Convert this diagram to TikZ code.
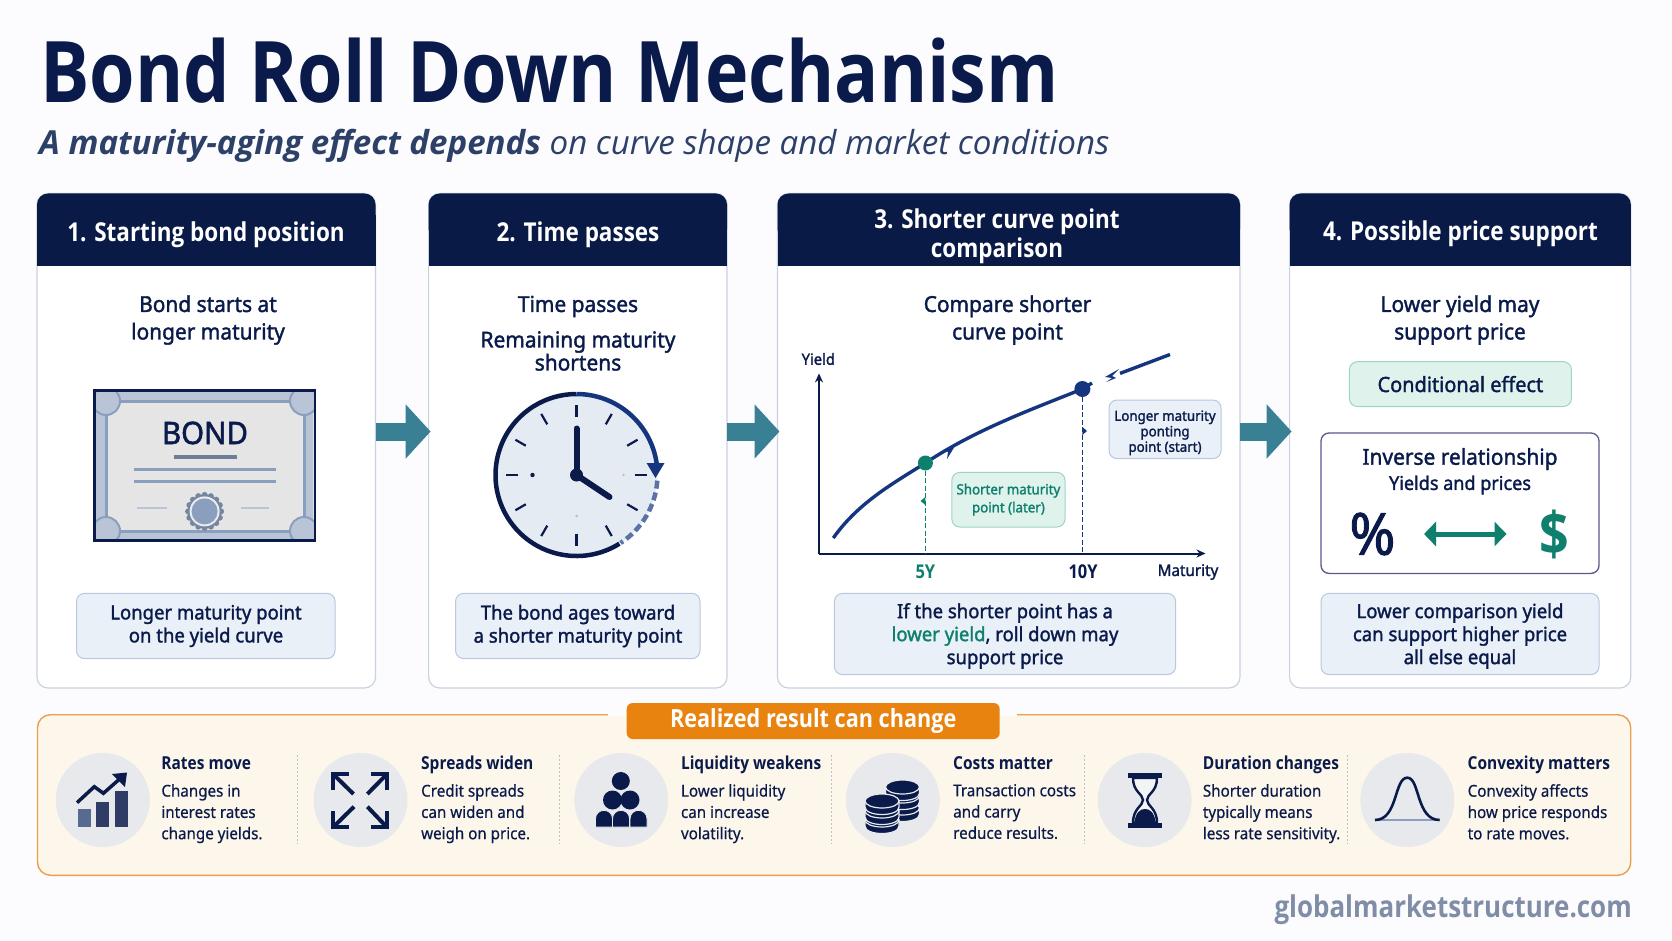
\documentclass[tikz,border=0pt]{standalone}
\usepackage{fontspec}
\usetikzlibrary{arrows.meta,calc}
\setmainfont{Noto Sans}
\newfontfamily\medf[FakeBold=1.6,FakeStretch=0.95]{Noto Sans}
\newfontfamily\condf[FakeStretch=0.93,FakeBold=0.5]{Noto Sans}
\newfontfamily\boldfam[FakeStretch=0.865]{Open Sans}
\newfontfamily\subfam{Open Sans}
\newcommand{\boldf}{\boldfam\bfseries}
\newcommand{\itf}{\subfam\itshape}
\newcommand{\ibf}{\subfam\bfseries\itshape}
\newcommand{\fz}[2]{\fontsize{#1}{#2}\selectfont}
\definecolor{navy}{HTML}{0A1B4B}
\definecolor{subc}{HTML}{2C4068}
\definecolor{hdr}{HTML}{0A1A46}
\definecolor{pbord}{HTML}{C9D2E0}
\definecolor{bluefill}{HTML}{EAF0F8}
\definecolor{blueb}{HTML}{B9C8DE}
\definecolor{greenfill}{HTML}{DFF2EC}
\definecolor{greenb}{HTML}{9FD3C5}
\definecolor{teal}{HTML}{0F7F6E}
\definecolor{arrowc}{HTML}{3A8095}
\definecolor{cream}{HTML}{FDF6EA}
\definecolor{orange}{HTML}{E8830F}
\definecolor{orangeb}{HTML}{E8A04A}
\definecolor{iconbg}{HTML}{E8E9EC}
\definecolor{certb}{HTML}{8A9EBD}
\definecolor{royal}{HTML}{15357F}
\definecolor{wm}{HTML}{7F8EA6}
\tikzset{
 panel/.style={draw=pbord,line width=1.2pt,fill=white,rounded corners=11pt,inner sep=0pt,outer sep=0pt},
 hdrtext/.style={text=white,align=center,font=\boldf\fz{26}{29.5}},
 headtext/.style={text=navy,align=center,font=\medf\fz{22}{27.5}},
 noteshape/.style={draw=blueb,line width=1pt,fill=bluefill,rounded corners=8pt,inner sep=0pt,outer sep=0pt},
 notetext/.style={text=navy,align=center,font=\medf\fz{19.5}{23}},
 greenbox/.style={draw=greenb,line width=1pt,fill=greenfill,rounded corners=8pt,inner sep=0pt,outer sep=0pt,align=center},
 bigarrow/.style={draw=arrowc,line width=18pt,shorten >=-2pt,-{Triangle[length=25pt,width=53pt]}},
 axis/.style={draw=navy,line width=2pt,-{Stealth[length=9pt,width=8pt]}},
 factT/.style={anchor=base west,inner sep=0pt,text=navy,font=\boldf\fz{17.9}{20}},
 factB/.style={anchor=north west,inner sep=0pt,text=navy,align=left,font=\condf\fz{16.3}{21.3}},
 fdiv/.style={draw=black!25,line width=.8pt,dash pattern=on 2pt off 2pt},
 iconc/.style={circle,fill=iconbg,minimum size=94pt,inner sep=0pt},
 tick/.style={draw=navy,line width=2.2pt},
 certline/.style={draw=certb,line width=3pt},
 outarrow/.style={draw=navy,line width=4pt,miter limit=10},
}
\begin{document}
\begin{tikzpicture}[x=1pt,y=-1pt,line cap=butt]
\useasboundingbox (0,0) rectangle (1672,941);
\fill[white!99!blue] (0,0) rectangle (1672,941);
% title
\node[anchor=base west,inner sep=0pt,text=navy,font=\boldf\fz{85}{90}] (title) at (40,103) {Bond Roll Down Mechanism};
\node[anchor=base west,inner sep=0pt,text=subc,font=\fz{33.1}{36}] (subtitle) at (39,155) {{\ibf A maturity-aging effect depends} {\itf on curve shape and market conditions}};
% panels
\node[panel,minimum width=338.5pt,minimum height=494.5pt] (p1) at (206.25,440.75) {};
\node[panel,minimum width=298.4pt,minimum height=494.5pt] (p2) at (577.8,440.75) {};
\node[panel,minimum width=462.5pt,minimum height=494.5pt] (p3) at (1008.75,440.75) {};
\node[panel,minimum width=341.2pt,minimum height=494.5pt] (p4) at (1460.2,440.75) {};
\foreach \a/\b in {37/375.5,428.6/727,777.5/1240,1289.6/1630.8}{
 \fill[hdr,rounded corners=11pt] (\a,193.5) rectangle (\b,240);
 \fill[hdr] (\a,215) rectangle (\b,266.5);
}
\node[hdrtext] (h1) at (206,235) {1. Starting bond position};
\node[hdrtext] (h2) at (578,235) {2. Time passes};
\node[hdrtext] (h3) at (997,236) {3. Shorter curve point\\comparison};
\node[hdrtext] (h4) at (1460.5,234) {4. Possible price support};
% arrows
\coordinate (ay) at (0,431.5);
\draw[bigarrow] (p1.east |- ay) -- (p2.west |- ay);
\draw[bigarrow] (p2.east |- ay) -- (p3.west |- ay);
\draw[bigarrow] (p3.east |- ay) -- (p4.west |- ay);
% heading texts
\node[headtext] (t1) at (208,320) {Bond starts at\\longer maturity};
\node[headtext] (t2a) at (578,306.5) {Time passes};
\node[headtext,font=\medf\fz{22}{23}] (t2b) at (578,351) {Remaining maturity\\shortens};
\node[headtext] (t3) at (1007.5,320) {Compare shorter\\curve point};
\node[headtext] (t4) at (1460,320) {Lower yield may\\support price};
% bond certificate
\fill[black!12!white] (94.4,390.7) rectangle (314.8,540.7);
\begin{scope}
 \clip (94.4,390.7) rectangle (314.8,540.7);
 \fill[certb!60!white] (96,392) rectangle (313,539);
 \fill[black!10!white,draw=certb,line width=3pt] (106,401) rectangle (304,531);
 \foreach \cx/\cy in {106/401,304/401,106/531,304/531}{
  \fill[certb!60!white] (\cx,\cy) circle[radius=14pt];
  \draw[certb,line width=2pt] (\cx,\cy) circle[radius=14pt];
 }
\end{scope}
\draw[navy,line width=2.5pt] (94.4,390.7) rectangle (314.8,540.7);
\node[text=navy,font=\medf\fz{31}{32}] (bondt) at (205,433) {BOND};
\draw[draw=certb!80!black,line width=3.5pt] (173.5,457) -- (237,457);
\draw[certline] (133.7,469.3) -- (276,469.3);
\draw[certline] (133.7,481.7) -- (276,481.7);
\draw[draw=certb!60!white,line width=2pt] (137,508) -- (167,508);
\draw[draw=certb!60!white,line width=2pt] (241,508) -- (269,508);
\begin{scope}[shift={(204.6,511.4)},y=1pt]
 \foreach \t in {0,22.5,...,337.5} \fill[certb!85!black] (\t:16.5) circle[radius=3pt];
 \fill[certb!85!black] (0,0) circle[radius=17pt];
 \fill[black!8!white] (0,0) circle[radius=15pt];
 \fill[certb] (0,0) circle[radius=13pt];
\end{scope}
% clock
\begin{scope}[shift={(576.5,475)},y=1pt]
 \fill[black!2!bluefill] (0,0) circle[radius=81pt];
 \draw[navy,line width=4.5pt] (-58:81) arc[start angle=-58,end angle=-270,radius=81pt];
 \draw[royal,line width=4.5pt] (90:81) arc[start angle=90,end angle=8,radius=81pt];
 \fill[royal] (79,0) ++(-9,12) -- ++(18,0) -- (79,-3) -- cycle;
 \draw[royal!70!white,line width=4.5pt,dash pattern=on 8pt off 4pt] (-4:81) arc[start angle=-4,end angle=-57,radius=81pt];
 \foreach \t in {30,60,120,150,210,240,300,330} \draw[tick] (\t:58.5) -- (\t:70.5);
 \foreach \t in {0,90,180,270} \draw[tick] (\t:58.5) -- (\t:70.5);
 \fill[navy] (-44,0) circle[radius=2.2pt];
 \fill[black!25] (47,0) circle[radius=1.3pt];
 \fill[black!25] (0,-41) circle[radius=1.5pt];
 \draw[navy,line width=6pt,line cap=round] (0,0) -- (0,46.5);
 \draw[navy,line width=6pt,line cap=round] (0,0) -- (33,-22);
 \fill[navy] (0,0) circle[radius=6.5pt];
\end{scope}
% chart
\coordinate (o) at (819,553.5);
\coordinate (yt) at (819,373.4);
\coordinate (xr) at (1205.5,553.5);
\draw[axis] (o) -- (yt);
\draw[axis] (o) -- (xr);
\node[text=navy,font=\medf\fz{15.5}{18}] (ylab) at (818.3,359) {Yield};
\node[text=navy,font=\medf\fz{16}{18}] (xlab) at (1188,572) {Maturity};
\coordinate (d5c) at (925.4,463);
\coordinate (d10c) at (1082.4,389);
\coordinate (cstart) at (833.3,538);
\coordinate (cend) at (1170,354.5);
\coordinate (s1) at (1092,383);
\coordinate (s2) at (1120,373.4);
\draw[royal,line width=3.4pt] (cstart) .. controls (858,503) and (892,484) .. (d5c) .. controls (975,430) and (1030,410) .. (d10c) -- (s1);
\draw[royal,line width=3.4pt] (s2) -- (cend);
\node[circle,fill=teal,minimum size=15pt,inner sep=0pt] (d5) at (d5c) {};
\node[circle,fill=royal,minimum size=16pt,inner sep=0pt] (d10) at (d10c) {};
\fill[royal] (1119,369) -- (1105,377) -- (1112,378) -- (1106,382) -- (1116,378) -- (1112,376) -- cycle;
\fill[royal] (955,446) -- (943,450) -- (948,452) -- (947,459) -- cycle;
\draw[teal,line width=1.4pt,dash pattern=on 5pt off 2.5pt] (d5.south) -- (d5 |- o);
\draw[royal,line width=1.4pt,dash pattern=on 5pt off 2.5pt] (d10.south) -- (d10 |- o);
\fill[teal] (920.5,501) -- (925.4,497) -- (925.4,505) -- cycle;
\fill[royal] (1087,431) -- (1082.4,427) -- (1082.4,435) -- cycle;
\node[text=teal,font=\boldf\fz{19}{20}] (l5) at (925.4,572) {5Y};
\node[text=navy,font=\boldf\fz{19}{20}] (l10) at (1083,572) {10Y};
\node[greenbox,minimum width=113.2pt,minimum height=54.6pt,text=teal,font=\medf\fz{14}{18}] (gbox) at (1008.4,499.7) {Shorter maturity\\point (later)};
\node[noteshape,minimum width=112pt,minimum height=58.6pt] (lbox) at (1165,429.3) {};
\node[notetext,font=\medf\fz{14}{15.5}] (lboxt) at (lbox) [yshift=-3.5pt] {Longer maturity\\ponting\\point (start)};
% note boxes
\node[noteshape,minimum width=258.5pt,minimum height=65.2pt] (n1) at (205.75,626) {};
\node[notetext] (n1t) at (206,626) {Longer maturity point\\on the yield curve};
\node[noteshape,minimum width=244.4pt,minimum height=65.2pt] (n2) at (577.8,626) {};
\node[notetext] (n2t) at (578,626) {The bond ages toward\\a shorter maturity point};
\node[noteshape,minimum width=341.2pt,minimum height=81.1pt] (n3) at (1005,634) {};
\node[notetext] (n3t) at (1005,636) {If the shorter point has a\\{\color{teal}lower yield}, roll down may\\support price};
\node[noteshape,minimum width=278pt,minimum height=81.1pt] (n4) at (1460,634) {};
\node[notetext] (n4t) at (1460,636) {Lower comparison yield\\can support higher price\\all else equal};
% panel 4
\node[greenbox,minimum width=222pt,minimum height=44.8pt,text=navy,font=\medf\fz{21}{24}] (cond) at (1460.4,384.1) {Conditional effect};
\node[draw=black!30!blue!30!gray,line width=1.3pt,fill=white,rounded corners=8pt,minimum width=278pt,minimum height=140.4pt,inner sep=0pt] (inv) at (1460,503.2) {};
\node[text=navy,font=\medf\fz{22}{24}] (inv1) at (1460,459) {Inverse relationship};
\node[text=navy,font=\medf\fz{19}{22}] (inv2) at (1460,485) {Yields and prices};
\node[text=navy,font=\medf\fz{58}{60}] (pct) at (1372.4,534) {\%};
\node[text=teal,font=\boldf\fz{60}{62}] (dol) at (1554.6,534) {\$};
\coordinate (al) at (1424,534);
\coordinate (ar) at (1506.5,534);
\draw[teal,line width=5pt,{Triangle[length=12pt,width=24pt]}-{Triangle[length=12pt,width=24pt]}] (al) -- (ar);
% bottom panel
\node[draw=orangeb,line width=1.4pt,fill=cream,rounded corners=13pt,minimum width=1593.2pt,minimum height=160.6pt,inner sep=0pt] (risk) at (834.1,795) {};
\fill[white!99!blue] (608,708) rectangle (1017,716);
\node[fill=orange,rounded corners=6pt,minimum width=373pt,minimum height=36pt,inner sep=0pt,text=white,font=\boldf\fz{25}{27}] (badge) at (813.2,721) {Realized result can change};
% factor icons
\foreach \n/\x in {a/102.8,b/360.5,c/621.3,d/892.8,e/1144.7,f/1407.3} \node[iconc] (ic\n) at (\x,800) {};
\foreach \x in {297.8,559.7,831.8,1084.6,1347} \draw[fdiv] (\x,755) -- (\x,844);
\node[factT] (fa) at (161.2,769.5) {Rates move};
\node[factB] (fa2) at (161.2,784) {Changes in\\interest rates\\change yields.};
\node[factT] (fb) at (421,769.5) {Spreads widen};
\node[factB] (fb2) at (421,784) {Credit spreads\\can widen and\\weigh on price.};
\node[factT] (fc) at (680.8,769.5) {Liquidity weakens};
\node[factB] (fc2) at (680.8,784) {Lower liquidity\\can increase\\volatility.};
\node[factT] (fd) at (953,769.5) {Costs matter};
\node[factB] (fd2) at (953,784) {Transaction costs\\and carry\\reduce results.};
\node[factT] (fe) at (1202.7,769.5) {Duration changes};
\node[factB] (fe2) at (1202.7,784) {Shorter duration\\typically means\\less rate sensitivity.};
\node[factT] (ff) at (1467.5,769.5) {Convexity matters};
\node[factB] (ff2) at (1467.5,784) {Convexity affects\\how price responds\\to rate moves.};
% icon: rates
\fill[certb!60!navy] (77.7,809.3) rectangle (91,826.7);
\fill[navy!85!white] (96,801.7) rectangle (109,826.7);
\fill[navy!85!white] (114.6,790.7) rectangle (127.5,826.7);
\draw[navy,line width=3.5pt,miter limit=4] (77,802.7) -- (94.3,786.7) -- (103.4,793.3) -- (123,776);
\fill[navy] (127,772.5) -- (112,774) -- (125,787) -- cycle;
% icon: arrows
\draw[outarrow] (353.5,794) -- (333,774);
\draw[outarrow] (333,790) -- (333,774) -- (349,774);
\draw[outarrow] (367.4,794) -- (387,774);
\draw[outarrow] (387,790) -- (387,774) -- (371,774);
\draw[outarrow] (354,806.7) -- (333,827.3);
\draw[outarrow] (333,811) -- (333,827.3) -- (349,827.3);
\draw[outarrow] (367.4,806.7) -- (387,827.3);
\draw[outarrow] (387,811) -- (387,827.3) -- (371,827.3);
% icon: people
\fill[navy] (620.8,781) circle[radius=9pt];
\fill[navy] (612.5,800) circle[radius=9.5pt];
\fill[navy] (630,800) circle[radius=9.5pt];
\foreach \x in {604,621,638.5} \fill[navy,draw=iconbg,line width=.8pt] (\x-8.5,827) -- (\x-8.5,819) .. controls (\x-8.5,807.5) and (\x+8.5,807.5) .. (\x+8.5,819) -- (\x+8.5,827) -- cycle;
% icon: coins
\foreach \cx/\ysa/\ysb/\ysc in {902.5/808/796/787, 882/820/811/801}{
 \foreach \cy in {\ysa,\ysb,\ysc} {
  \fill[navy,draw=iconbg,line width=1.2pt] (\cx-17,\cy) -- (\cx-17,\cy+6) .. controls (\cx-17,\cy+16) and (\cx+17,\cy+16) .. (\cx+17,\cy+6) -- (\cx+17,\cy) -- cycle;
  \fill[navy,draw=iconbg,line width=1.2pt] (\cx,\cy) ellipse[x radius=17pt,y radius=7pt];
 }
}
% icon: hourglass
\fill[navy] (1128,772.7) rectangle (1162,778.3);
\fill[navy] (1128,822.5) rectangle (1162,827.7);
\draw[navy,line width=2.4pt,fill=iconbg!50!white] (1133,778) .. controls (1133,792) and (1143,794) .. (1143,800) .. controls (1143,806) and (1133,808) .. (1133,823) -- (1157,823) .. controls (1157,808) and (1147,806) .. (1147,800) .. controls (1147,794) and (1157,792) .. (1157,778) -- cycle;
\fill[navy] (1134,823) .. controls (1136,812) and (1140,809) .. (1145,809) .. controls (1150,809) and (1154,812) .. (1156,823) -- cycle;
% icon: bell
\draw[certb,line width=2pt] (1375,820) -- (1439.6,820);
\draw[navy,line width=2.6pt] (1375,820) .. controls (1398,820) and (1394,777.7) .. (1407.3,777.7) .. controls (1420,777.7) and (1416,820) .. (1439.6,820);
% watermark
\node[anchor=east,inner sep=0pt,text=wm,font=\boldf\fz{30}{32}] (wmk) at (1632,910) {globalmarketstructure.com};
\end{tikzpicture}
\end{document}
